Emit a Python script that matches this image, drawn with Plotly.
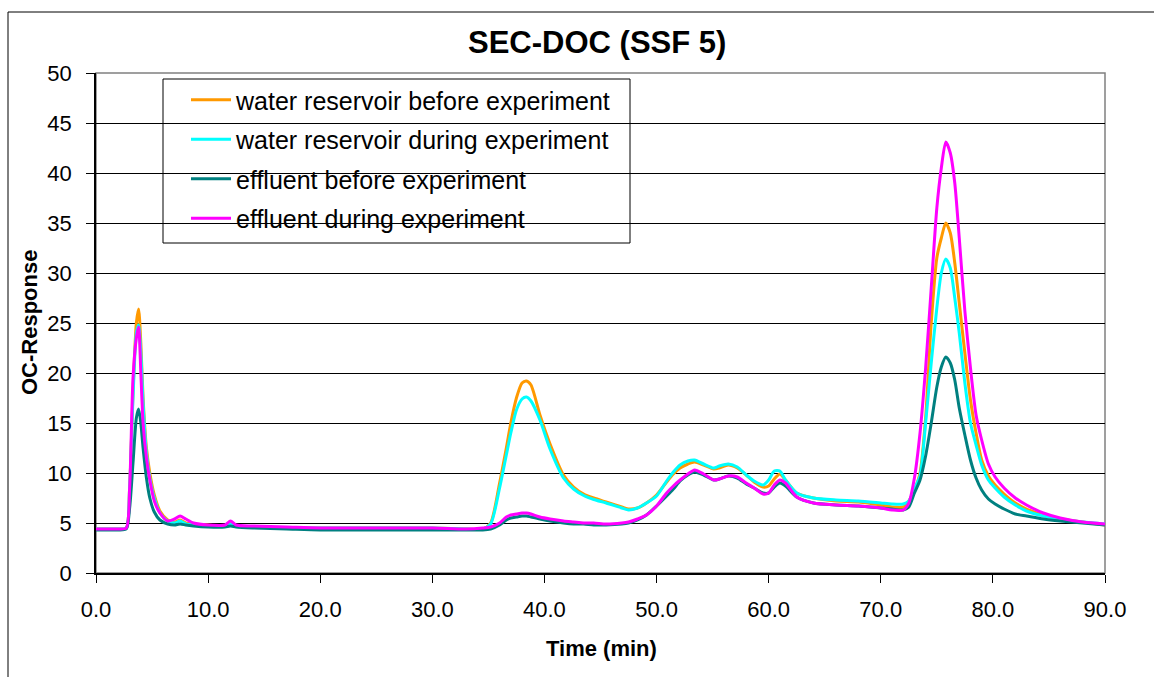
import plotly.graph_objects as go

# Shared time grid (min)
time_min = [0, 1, 2, 2.7, 3.0, 3.3, 3.6, 3.8, 4.0, 4.2,
            4.5, 4.8, 5.2, 5.7, 6.4, 7.0, 7.5, 8.0, 8.7, 10,
            11.5, 12.0, 12.5, 14, 17, 20, 25, 30, 33, 34.5,
            35.2, 36.0, 36.6, 37.0, 37.5, 38.0, 38.4, 38.8, 39.6, 40.5,
            41.7, 42.6, 43.5, 44.4, 45.5, 46.9, 47.5, 48.3, 49.1, 50.0,
            50.9, 51.5, 52.1, 52.8, 53.4, 54.2, 55.1, 55.6, 56.4, 57.2,
            58.0, 58.7, 59.5, 60.0, 60.5, 61.0, 61.5, 62.5, 64.0, 66.0,
            68.0, 70.0, 71.0, 72.0, 72.5, 73.0, 73.5, 74.0, 74.5, 75.0,
            75.4, 75.8, 76.2, 76.6, 77.0, 77.5, 78.0, 78.5, 79.0, 79.6,
            80.2, 81.0, 82.0, 83.0, 84.5, 86.0, 88.0, 90.0]

water_reservoir_before = [4.4, 4.4, 4.4, 4.5, 8.5, 18.0, 25.0, 26.4, 23.0, 17.5,
                          12.5, 10.0, 7.8, 6.2, 5.3, 5.1, 5.3, 5.0, 4.9, 4.8,
                          4.7, 5.0, 4.7, 4.6, 4.5, 4.5, 4.5, 4.5, 4.4, 4.4,
                          5.0, 9.0, 12.5, 15.0, 17.5, 19.0, 19.2, 18.8, 15.8, 12.9,
                          9.8, 8.6, 7.9, 7.5, 7.1, 6.6, 6.4, 6.5, 7.0, 7.8,
                          9.1, 9.9, 10.5, 10.9, 11.1, 10.8, 10.4, 10.5, 10.8, 10.5,
                          9.8, 9.1, 8.6, 8.7, 9.4, 9.9, 9.3, 8.0, 7.5, 7.2,
                          7.1, 6.8, 6.6, 6.6, 7.2, 8.3, 10.0, 15.5, 25.0, 31.5,
                          33.5, 35.0, 34.0, 31.0, 27.0, 22.0, 17.3, 14.0, 11.3, 9.7,
                          8.8, 7.9, 7.0, 6.4, 5.8, 5.4, 5.1, 4.8]

water_reservoir_during = [4.4, 4.4, 4.4, 4.5, 8.5, 17.5, 24.0, 24.8, 22.0, 17.0,
                          12.0, 9.5, 7.5, 6.0, 5.2, 5.0, 5.2, 4.9, 4.8, 4.7,
                          4.7, 4.9, 4.7, 4.6, 4.5, 4.5, 4.5, 4.5, 4.4, 4.4,
                          4.9, 8.5, 11.8, 14.0, 16.3, 17.4, 17.6, 17.2, 15.3, 12.4,
                          9.5, 8.4, 7.75, 7.35, 7.0, 6.5, 6.3, 6.5, 7.0, 7.7,
                          9.2, 10.1, 10.8, 11.2, 11.3, 10.9, 10.5, 10.7, 10.9, 10.6,
                          9.8, 9.2, 8.8, 9.3, 10.2, 10.2, 9.3, 8.0, 7.5, 7.3,
                          7.2, 7.0, 6.9, 6.9, 7.2, 8.4, 9.7, 15.0, 21.0, 26.5,
                          30.0, 31.4, 30.5, 27.5, 24.0, 19.0, 15.0, 12.8, 10.8, 9.3,
                          8.5, 7.6, 6.8, 6.2, 5.7, 5.4, 5.1, 4.9]

effluent_before = [4.3, 4.3, 4.3, 4.4, 6.5, 11.0, 15.5, 16.4, 15.0, 12.5,
                   9.5, 7.5, 6.1, 5.3, 4.9, 4.8, 4.9, 4.8, 4.7, 4.6,
                   4.6, 4.7, 4.6, 4.5, 4.4, 4.3, 4.3, 4.3, 4.3, 4.3,
                   4.4, 4.8, 5.3, 5.5, 5.6, 5.7, 5.7, 5.6, 5.4, 5.2,
                   5.0, 4.9, 4.9, 4.8, 4.8, 4.9, 5.0, 5.3, 5.8, 6.7,
                   7.7, 8.4, 9.2, 9.8, 10.1, 9.8, 9.3, 9.4, 9.7, 9.5,
                   8.9, 8.5, 8.0, 8.0, 8.6, 9.0, 8.7, 7.6, 7.0, 6.8,
                   6.7, 6.5, 6.4, 6.3, 6.6, 8.0, 9.3, 11.7, 15.0, 18.6,
                   20.6, 21.6, 21.0, 19.3, 16.5, 13.8, 11.3, 9.5, 8.3, 7.4,
                   6.9, 6.4, 5.9, 5.7, 5.4, 5.2, 5.0, 4.8]

effluent_during = [4.4, 4.4, 4.4, 4.5, 8.5, 19.5, 23.5, 24.6, 20.0, 15.0,
                   11.5, 9.3, 7.2, 6.0, 5.2, 5.4, 5.7, 5.4, 5.0, 4.8,
                   4.8, 5.2, 4.8, 4.7, 4.6, 4.5, 4.5, 4.5, 4.4, 4.5,
                   4.6, 5.0, 5.6, 5.8, 5.9, 6.0, 6.0, 5.9, 5.6, 5.4,
                   5.2, 5.1, 5.0, 5.0, 4.9, 5.0, 5.1, 5.4, 5.8, 6.7,
                   8.0, 8.7, 9.3, 9.9, 10.3, 9.9, 9.3, 9.4, 9.7, 9.6,
                   9.0, 8.5, 7.9, 8.0, 8.8, 9.3, 9.0, 7.6, 7.0, 6.8,
                   6.7, 6.5, 6.3, 6.3, 7.0, 9.5, 14.0, 20.5, 28.5, 36.5,
                   40.5, 43.1, 42.0, 39.0, 33.5, 26.2, 20.5, 15.8, 13.3, 10.9,
                   9.6, 8.5, 7.5, 6.8, 6.0, 5.5, 5.1, 4.9]

series_names = ["water reservoir before experiment",
                "water reservoir during experiment",
                "effluent before experiment",
                "effluent during experiment"]
series_colors = ["#FF9900", "#00FFFF", "#008080", "#FF00FF"]
series_values = [water_reservoir_before, water_reservoir_during,
                 effluent_before, effluent_during]

x_tickvals = [0, 10, 20, 30, 40, 50, 60, 70, 80, 90]
x_ticktext = ["0.0", "10.0", "20.0", "30.0", "40.0", "50.0", "60.0", "70.0", "80.0", "90.0"]
y_tickvals = [0, 5, 10, 15, 20, 25, 30, 35, 40, 45, 50]

FONT = "Liberation Sans, Arial, sans-serif"

fig = go.Figure()
for i, (name, col, vals) in enumerate(zip(series_names, series_colors, series_values)):
    fig.add_trace(go.Scatter(x=time_min, y=vals, mode="lines", name=name,
                             legendgroup=f"g{i}",
                             line=dict(color=col, width=3, shape="spline", smoothing=0.7)))

W, H = 1154, 677
L, R, T, B = 96, 1105, 73, 573
pw, ph = R - L, B - T

def px(xp):
    return (xp - L) / pw

def py(yp):
    return (B - yp) / ph

fig.update_layout(
    width=W, height=H,
    margin=dict(l=L, r=W - R, t=T, b=H - B, autoexpand=False),
    paper_bgcolor="white", plot_bgcolor="white",
    font=dict(family=FONT, color="black", size=22),
    showlegend=True,
    legend=dict(x=px(186), y=py(77), xanchor="left", yanchor="top",
                bgcolor="rgba(0,0,0,0)", borderwidth=0,
                font=dict(family=FONT, size=25, color="black"),
                traceorder="grouped", tracegroupgap=4, itemwidth=40),
    xaxis=dict(range=[0, 90], tickvals=x_tickvals, ticktext=x_ticktext,
               showgrid=False, zeroline=False, showline=True,
               linecolor="black", linewidth=1.5, ticks="outside",
               ticklen=8, tickcolor="black", tickwidth=1,
               tickfont=dict(size=22, family=FONT),
               ticklabelstandoff=8),
    yaxis=dict(range=[0, 50], tickvals=y_tickvals,
               showgrid=True, gridcolor="black", gridwidth=1,
               zeroline=False, showline=True,
               linecolor="black", linewidth=1.5, ticks="outside",
               ticklen=8, tickcolor="black", tickwidth=1,
               tickfont=dict(size=22, family=FONT),
               ticklabelstandoff=10),
    shapes=[
        # plot area border (grey)
        dict(type="rect", xref="paper", yref="paper", x0=0, x1=1, y0=0, y1=1,
             line=dict(color="#808080", width=1.5), layer="below"),
        # chart outer border
        dict(type="rect", xref="paper", yref="paper",
             x0=px(8), x1=px(1200), y0=py(720), y1=py(12),
             line=dict(color="black", width=1), layer="below"),
        # legend box
        dict(type="rect", xref="paper", yref="paper",
             x0=px(163), x1=px(630), y0=py(243), y1=py(79),
             line=dict(color="black", width=1), fillcolor="white", layer="below"),
    ],
    annotations=[
        dict(text="<b>SEC-DOC (SSF 5)</b>", xref="paper", yref="paper",
             x=px(597), y=py(43), xanchor="center", yanchor="middle",
             showarrow=False, font=dict(size=31, family=FONT)),
        dict(text="<b>Time (min)</b>", xref="paper", yref="paper",
             x=px(601), y=py(648), xanchor="center", yanchor="middle",
             showarrow=False, font=dict(size=22, family=FONT)),
        dict(text="<b>OC-Response</b>", xref="paper", yref="paper",
             x=px(29), y=py(323), xanchor="center", yanchor="middle",
             textangle=-90, showarrow=False, font=dict(size=22, family=FONT)),
    ],
)

fig.write_html("out.html", config={"displayModeBar": False},
               post_script="document.body.style.margin='0';document.body.style.overflow='hidden';")
